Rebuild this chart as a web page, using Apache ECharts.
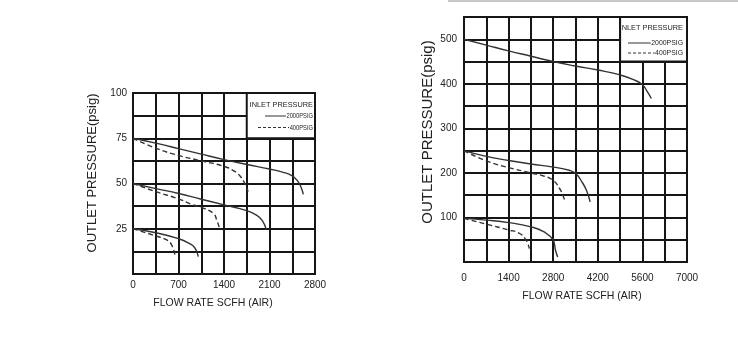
<!DOCTYPE html>
<html><head><meta charset="utf-8">
<script src="https://cdn.jsdelivr.net/npm/echarts@6/dist/echarts.min.js"></script>
<style>html,body{margin:0;padding:0;background:#fff}#c{width:738px;height:358px}</style>
</head><body><div id="c"></div>
<script>
// ---- Left chart data (flow SCFH, outlet psig) ----
const leftS75 = [[0,75],[350,72.3],[700,69.3],[1050,66.2],[1400,63.2],[1750,60.5],[2100,58],[2300,56.3],[2450,54.2],[2540,51],[2590,47.5],[2620,44]];
const leftD75 = [[0,75],[350,69.5],[700,65.5],[1050,62.5],[1400,59.5],[1550,57],[1650,54],[1720,50],[1770,45.5]];
const leftS50 = [[0,50],[350,47.2],[700,44.5],[1050,41.3],[1400,38.2],[1750,35],[1900,32.5],[1990,29.5],[2050,24.5]];
const leftD50 = [[0,50],[350,45.5],[700,41.5],[900,38.5],[1050,36.8],[1236,33.5],[1287,30],[1338,24.3]];
const leftS25 = [[0,25],[350,22.8],[700,19.5],[850,17.2],[950,14.5],[1005,9.6]];
const leftD25 = [[0,25],[350,21],[520,18.8],[595,16],[646,10.1]];
// ---- Right chart data ----
const rightS500 = [[0,500],[700,487],[1400,474],[2100,462],[2800,450],[3500,440],[4200,431],[4900,420],[5300,410],[5600,398],[5750,383],[5880,367]];
const rightS250 = [[0,250],[700,237],[1400,228],[2100,220],[2800,213],[3300,206],[3500,199],[3700,180],[3850,160],[3960,135]];
const rightD250 = [[0,250],[700,227],[1400,212],[2100,200],[2500,193],[2800,183],[3000,165],[3100,150],[3180,135]];
const rightS100 = [[0,98],[700,94],[1400,88.5],[2100,79],[2500,68],[2800,49],[2870,27],[2940,11]];
const rightD100 = [[0,98],[700,85],[1400,72],[1750,64],[1950,49],[2050,30]];
// ---- Axis ranges / ticks ----
const leftX = {min:0, max:2800, interval:350, labelStep:700};
const leftY = {min:0, max:100, interval:12.5, labelStep:25, hideZero:true};
const rightX = {min:0, max:7000, interval:700, labelStep:1400};
const rightY = {min:0, max:550, interval:50, labelStep:100, labelMax:500, hideZero:true};
const legendBoxLeft = [[1750,75],[2800,100]];
const legendBoxRight = [[4900,450],[7000,550]];
const legendTitle = 'INLET PRESSURE';
const legendNames = ['2000PSIG','400PSIG'];
const yTitle = 'OUTLET PRESSURE(psig)';
const xTitle = 'FLOW RATE SCFH (AIR)';

const INK = '#161616', CURVE = '#333', FONT = "'Liberation Sans', Arial, sans-serif";
const chart = echarts.init(document.getElementById('c'));

function ser(name, data, idx, dashed, box) {
  const s = {
    name, type:'line', data, xAxisIndex:idx, yAxisIndex:idx, showSymbol:false, symbol:'none',
    smooth:0.5, silent:true,
    lineStyle:{color:CURVE, width:1.4, type: dashed ? [5,3] : 'solid'}
  };
  if (box) s.markArea = {silent:true, itemStyle:{color:'#fff', opacity:1, borderColor:INK, borderWidth:2},
    data:[[{coord:box[0]},{coord:box[1]}]]};
  return s;
}
function fmt(r) {
  return v => {
    if (r.hideZero && v === 0) return '';
    if (Math.abs(v % r.labelStep) > 1e-9) return '';
    if (r.labelMax && v > r.labelMax) return '';
    return String(v);
  };
}
function ax(r, grid, margin) {
  return {type:'value', gridIndex:grid, min:r.min, max:r.max, interval:r.interval,
    axisLine:{show:true, lineStyle:{color:INK, width:2}}, axisTick:{show:false},
    splitLine:{show:true, lineStyle:{color:INK, width:2}},
    axisLabel:{margin, color:'#222', fontSize:10, fontFamily:FONT, formatter: fmt(r)}};
}
function txt(text, x, y, size, align, rot, sx) {
  return {type:'text', x, y, rotation: rot || 0, scaleX: sx || 1, z:100,
    style:{text, x:0, y:0, fill:'#222', font: size + 'px ' + FONT, textAlign: align || 'center', textVerticalAlign:'middle'}};
}
function seg(x1, x2, y, dashed) {
  return {type:'line', z:100, shape:{x1, y1:y, x2, y2:y},
    style:{stroke:CURVE, lineWidth:1, lineDash: dashed ? [3,2] : null}};
}
// right edge, title y, item ys, line starts, item text scale
function legend(right, y0, y1, y2, l1, l2, sx) {
  const w1 = 4.62 * 8 * sx, w2 = 4.06 * 8 * sx;
  return [
    txt(legendTitle, right, y0, 8, 'right', 0, 0.92),
    seg(l1, right - w1 - 0.5, y1, false), txt(legendNames[0], right, y1, 8, 'right', 0, sx),
    seg(l2, right - w2 - 0.5, y2, true), txt(legendNames[1], right, y2, 8, 'right', 0, sx)
  ];
}

chart.setOption({
  animation:false,
  backgroundColor:'#fff',
  grid:[
    {left:133, top:93, width:182, height:181, show:true, borderColor:INK, borderWidth:2, backgroundColor:'#fff'},
    {left:464, top:17, width:223, height:245, show:true, borderColor:INK, borderWidth:2, backgroundColor:'#fff'}
  ],
  xAxis:[ax(leftX, 0, 6), ax(rightX, 1, 11)],
  yAxis:[ax(leftY, 0, 6), ax(rightY, 1, 7)],
  series:[
    ser(legendNames[0], leftS75, 0, false, legendBoxLeft),
    ser(legendNames[1], leftD75, 0, true),
    ser(legendNames[0], leftS50, 0, false),
    ser(legendNames[1], leftD50, 0, true),
    ser(legendNames[0], leftS25, 0, false),
    ser(legendNames[1], leftD25, 0, true),
    ser(legendNames[0], rightS500, 1, false, legendBoxRight),
    ser(legendNames[0], rightS250, 1, false),
    ser(legendNames[1], rightD250, 1, true),
    ser(legendNames[0], rightS100, 1, false),
    ser(legendNames[1], rightD100, 1, true)
  ],
  graphic:[
    {type:'line', z:100, shape:{x1:448, y1:1, x2:738, y2:1}, style:{stroke:'#c8c8c8', lineWidth:2}},
    txt(yTitle, 92, 173, 13, 'center', Math.PI/2),
    txt(yTitle, 428, 132, 15, 'center', Math.PI/2),
    txt(xTitle, 213, 303, 10.5),
    txt(xTitle, 582, 296, 10.5)
  ].concat(legend(313, 105, 116, 127.5, 265, 258, 0.72))
   .concat(legend(683, 28, 43, 53, 628, 628, 0.86))
});
</script></body></html>
